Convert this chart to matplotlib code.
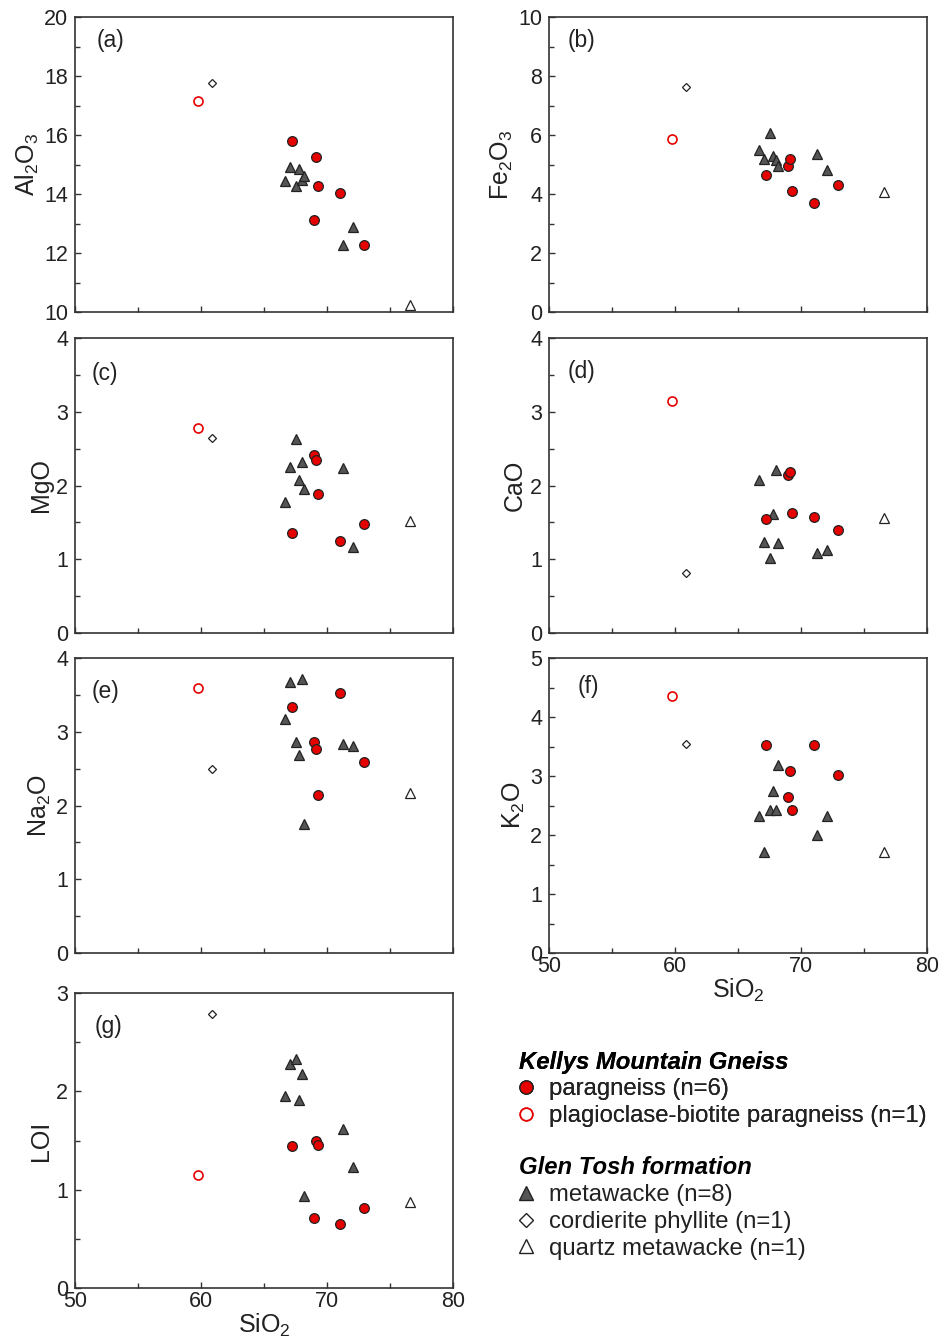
import matplotlib
matplotlib.use('Agg')
import matplotlib.pyplot as plt
from matplotlib.lines import Line2D
from matplotlib.ticker import MultipleLocator

plt.rcParams['font.family'] = ['Liberation Sans', 'DejaVu Sans']
plt.rcParams['mathtext.fontset'] = 'custom'
plt.rcParams['mathtext.rm'] = 'Liberation Sans'
plt.rcParams['mathtext.it'] = 'Liberation Sans:italic'

# SiO2 for each group
sio2_para = [67.2, 69.0, 69.15, 69.25, 71.0, 72.9]
sio2_plag = [59.8]
sio2_meta = [66.7, 67.1, 67.5, 67.8, 68.0, 68.15, 71.3, 72.1]
sio2_cord = [60.9]
sio2_qtz = [76.6]

# oxide values, same order as the SiO2 lists
al2o3_para = [15.78, 13.13, 15.25, 14.28, 14.05, 12.27]
al2o3_meta = [14.43, 14.93, 14.26, 14.84, 14.48, 14.6, 12.26, 12.87]
al2o3_plag, al2o3_cord, al2o3_qtz = [17.16], [17.77], [10.23]

fe2o3_para = [4.64, 4.96, 5.2, 4.1, 3.7, 4.31]
fe2o3_meta = [5.49, 5.17, 6.07, 5.3, 5.15, 4.96, 5.36, 4.81]
fe2o3_plag, fe2o3_cord, fe2o3_qtz = [5.87], [7.62], [4.07]

mgo_para = [1.36, 2.41, 2.35, 1.88, 1.25, 1.48]
mgo_meta = [1.78, 2.25, 2.63, 2.07, 2.32, 1.95, 2.24, 1.16]
mgo_plag, mgo_cord, mgo_qtz = [2.78], [2.64], [1.52]

cao_para = [1.55, 2.14, 2.18, 1.63, 1.57, 1.39]
cao_meta = [2.08, 1.24, 1.02, 1.62, 2.21, 1.22, 1.09, 1.12]
cao_plag, cao_cord, cao_qtz = [3.15], [0.81], [1.56]

na2o_para = [3.33, 2.86, 2.76, 2.14, 3.53, 2.59]
na2o_meta = [3.17, 3.68, 2.86, 2.69, 3.71, 1.75, 2.83, 2.81]
na2o_plag, na2o_cord, na2o_qtz = [3.6], [2.5], [2.17]

k2o_para = [3.53, 2.64, 3.09, 2.42, 3.53, 3.01]
k2o_meta = [2.33, 1.72, 2.42, 2.74, 2.42, 3.18, 2.0, 2.33]
k2o_plag, k2o_cord, k2o_qtz = [4.35], [3.55], [1.71]

loi_para = [1.44, 0.71, 1.49, 1.45, 0.65, 0.81]
loi_meta = [1.95, 2.28, 2.33, 1.91, 2.18, 0.94, 1.62, 1.23]
loi_plag, loi_cord, loi_qtz = [1.15], [2.79], [0.87]

RED = '#e60000'
EDGE = '#222222'
GREY = '#555555'
TXT = '#222222'

fig = plt.figure(figsize=(9.42, 13.4), dpi=100)

W, H = 378 / 942, 295 / 1340
lefts = [75 / 942, 549 / 942]
bottoms = [1 - 312 / 1340, 1 - 633 / 1340, 1 - 953 / 1340, 1 - 1288 / 1340]

panels = [
    # (row, col, label, ylabel, ylim, major, minor, data, label pos)
    (0, 0, '(a)', r'Al$_{\mathrm{2}}$O$_{\mathrm{3}}$', (10, 20), 2, 1,
     (al2o3_para, al2o3_plag, al2o3_meta, al2o3_cord, al2o3_qtz), (0.058, 0.922)),
    (0, 1, '(b)', r'Fe$_{\mathrm{2}}$O$_{\mathrm{3}}$', (0, 10), 2, 1,
     (fe2o3_para, fe2o3_plag, fe2o3_meta, fe2o3_cord, fe2o3_qtz), (0.048, 0.922)),
    (1, 0, '(c)', 'MgO', (0, 4), 1, 0.5,
     (mgo_para, mgo_plag, mgo_meta, mgo_cord, mgo_qtz), (0.045, 0.88)),
    (1, 1, '(d)', 'CaO', (0, 4), 1, 0.5,
     (cao_para, cao_plag, cao_meta, cao_cord, cao_qtz), (0.048, 0.885)),
    (2, 0, '(e)', r'Na$_{\mathrm{2}}$O', (0, 4), 1, 0.5,
     (na2o_para, na2o_plag, na2o_meta, na2o_cord, na2o_qtz), (0.045, 0.885)),
    (2, 1, '(f)', r'K$_{\mathrm{2}}$O', (0, 5), 1, 0.5,
     (k2o_para, k2o_plag, k2o_meta, k2o_cord, k2o_qtz), (0.077, 0.905)),
    (3, 0, '(g)', 'LOI', (0, 3), 1, 0.5,
     (loi_para, loi_plag, loi_meta, loi_cord, loi_qtz), (0.053, 0.885)),
]

for row, col, lab, ylab, ylim, maj, mnr, data, lpos in panels:
    ax = fig.add_axes([lefts[col], bottoms[row], W, H])
    para, plag, meta, cord, qtz = data
    ax.plot(sio2_meta, meta, '^', ms=7.5, mfc=GREY, mec=EDGE, mew=0.9, ls='none')
    ax.plot(sio2_para, para, 'o', ms=7, mfc=RED, mec=EDGE, mew=0.9, ls='none')
    ax.plot(sio2_plag, plag, 'o', ms=6.5, mfc='white', mec=RED, mew=1.2, ls='none')
    ax.plot(sio2_cord, cord, 'D', ms=4.5, mfc='white', mec=EDGE, mew=0.9, ls='none')
    ax.plot(sio2_qtz, qtz, '^', ms=7, mfc='white', mec=EDGE, mew=0.9, ls='none')

    ax.set_xlim(50, 80)
    ax.set_ylim(*ylim)
    ax.xaxis.set_major_locator(MultipleLocator(10))
    ax.xaxis.set_minor_locator(MultipleLocator(5))
    ax.yaxis.set_major_locator(MultipleLocator(maj))
    ax.yaxis.set_minor_locator(MultipleLocator(mnr))
    ax.tick_params(which='both', direction='in', top=False, right=False,
                   width=1.0, color='#333333', labelsize=15.5, labelcolor=TXT)
    ax.tick_params(axis='x', pad=2)
    ax.tick_params(axis='y', pad=5)
    ax.tick_params(which='major', length=4)
    ax.tick_params(which='minor', length=3.5)
    for sp in ax.spines.values():
        sp.set_linewidth(1.2)
        sp.set_color('#333333')
    ax.set_ylabel(ylab, fontsize=18, color=TXT, labelpad=2)
    if row == 3 or (row == 2 and col == 1):
        ax.set_xlabel(r'SiO$_{\mathrm{2}}$', fontsize=18, color=TXT, labelpad=0)
    else:
        ax.tick_params(axis='x', labelbottom=False)
    ax.text(lpos[0], lpos[1], lab, transform=ax.transAxes, ha='left', va='center',
            fontsize=16.5, color=TXT)

leg_kw = dict(loc='upper left', frameon=False, borderpad=0, borderaxespad=0,
              handlelength=0.6, handletextpad=0.65, labelspacing=0.2,
              alignment='left', prop={'size': 17.2},
              title_fontproperties={'size': 17.2, 'weight': 'bold', 'style': 'italic'})

h1 = [Line2D([], [], marker='o', ls='none', ms=9.5, mfc=RED, mec=EDGE, mew=1.0),
      Line2D([], [], marker='o', ls='none', ms=9, mfc='white', mec=RED, mew=1.2)]
leg1 = fig.legend(h1, ['paragneiss (n=6)', 'plagioclase-biotite paragneiss (n=1)'],
                  title='Kellys Mountain Gneiss', bbox_to_anchor=(0.551, 0.216), **leg_kw)
for t in leg1.get_texts():
    t.set_color(TXT)

h2 = [Line2D([], [], marker='^', ls='none', ms=10, mfc=GREY, mec=EDGE, mew=1.0),
      Line2D([], [], marker='D', ls='none', ms=7, mfc='white', mec=EDGE, mew=1.0),
      Line2D([], [], marker='^', ls='none', ms=10, mfc='white', mec=EDGE, mew=1.0)]
leg2 = fig.legend(h2, ['metawacke (n=8)', 'cordierite phyllite (n=1)',
                       'quartz metawacke (n=1)'],
                  title='Glen Tosh formation', bbox_to_anchor=(0.551, 0.137), **leg_kw)
for t in leg2.get_texts():
    t.set_color(TXT)
fig.add_artist(leg1)

fig.savefig('out.png', dpi=100)
